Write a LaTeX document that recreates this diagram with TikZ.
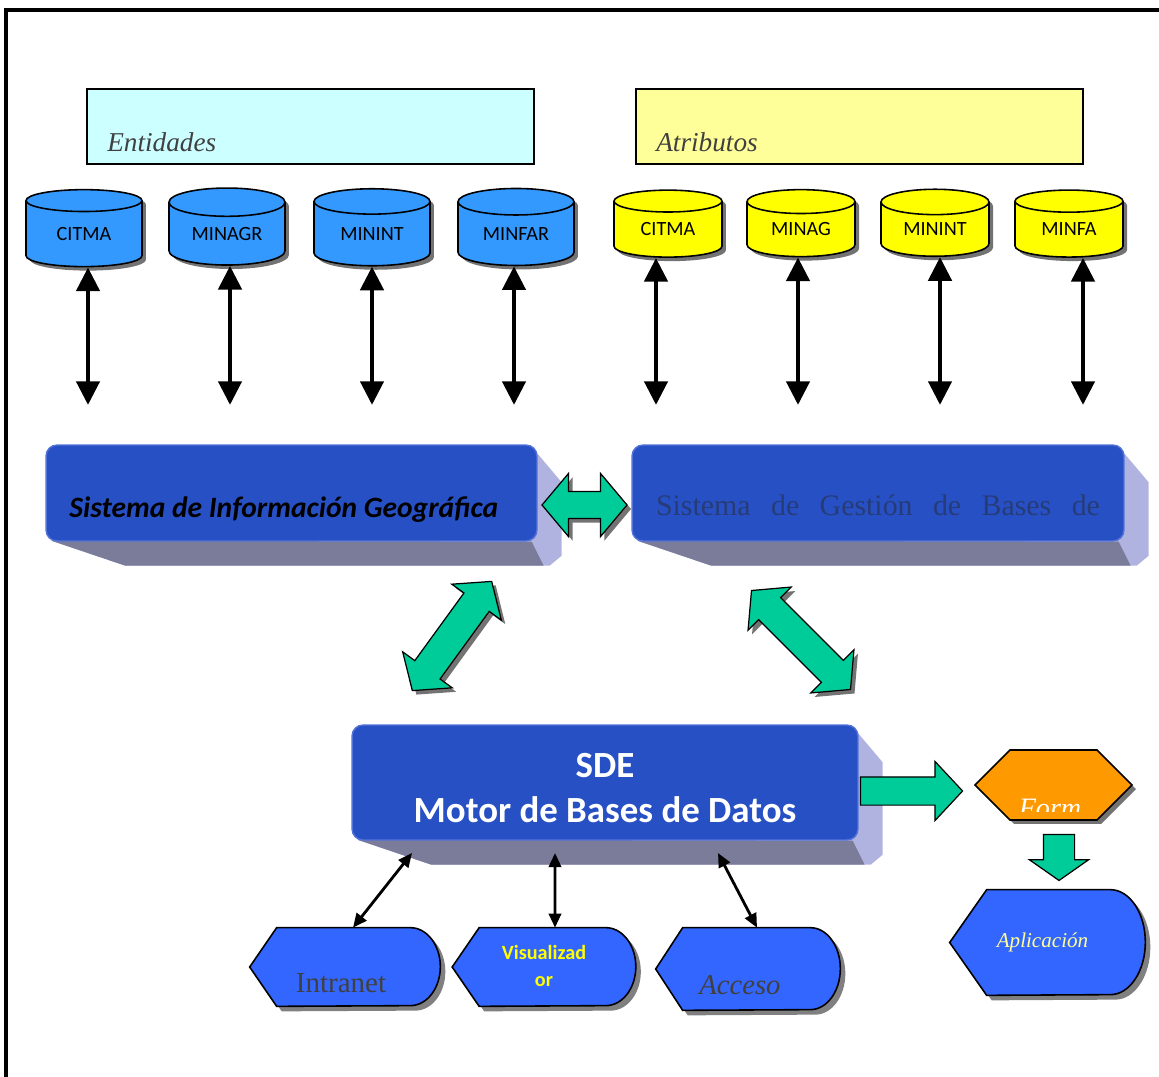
\documentclass[tikz,border=0pt]{standalone}
\usepackage{fontspec}
\setmainfont{Liberation Serif}
\newfontfamily\calibri{Carlito}
\usetikzlibrary{positioning,shapes.geometric,shapes.arrows,shapes.symbols,shadows,arrows.meta,backgrounds,calc}

\definecolor{entcol}{HTML}{CCFFFF}
\definecolor{atrcol}{HTML}{FFFF99}
\definecolor{cylblue}{HTML}{3399FF}
\definecolor{cylyellow}{HTML}{FFFF00}
\definecolor{sysblue}{HTML}{2850C5}
\definecolor{sysedge}{HTML}{5373D8}
\definecolor{sideface}{HTML}{B0B3E0}
\definecolor{bottomface}{HTML}{7B7B9A}
\definecolor{flowgreen}{HTML}{00CC99}
\definecolor{formorange}{HTML}{FF9900}
\definecolor{dispblue}{HTML}{3366FF}
\definecolor{darktext}{HTML}{404040}
\definecolor{gestext}{HTML}{263C78}

% caja en relieve detras de los sistemas
\newcommand{\boxdepth}[1]{%
  \fill[sideface] ([shift={(-3,6)}]#1.north east) -- ([shift={(24,38)}]#1.north east)
    -- ([shift={(24,14)}]#1.south east) -- ([shift={(12,24)}]#1.south east)
    -- ([shift={(80,24)}]#1.south west) -- ([shift={(6,-1)}]#1.south west) -- cycle;
  \fill[bottomface] ([shift={(6,-1)}]#1.south west) -- ([shift={(80,24)}]#1.south west)
    -- ([shift={(6,24)}]#1.south east) -- ([shift={(-6,0)}]#1.south east) -- cycle;
}
% forma de pantalla: punta a la izquierda, redonda a la derecha
\newcommand{\dispshape}[4]{%
  \filldraw[dispstyle] (#1.west) -- ([xshift=#2]#1.north west) -- ([xshift=-#3]#1.north east)
    arc[start angle=90, end angle=-90, x radius=#3, y radius=#4]
    -- ([xshift=#2]#1.south west) -- cycle;
}

\begin{document}
\begin{tikzpicture}[x=0.02cm, y=-0.02cm,
    titlebox/.style={rectangle, draw, line width=1pt, minimum width=8.94cm, minimum height=1.5cm},
    titletext/.style={anchor=west, inner sep=0pt, text=darktext, font=\itshape\fontsize{15.5}{18}\selectfont},
    basedato/.style={cylinder, shape border rotate=90, aspect=0.4, draw, line width=0.9pt,
      inner sep=0pt, font=\calibri\fontsize{11.5}{13}\selectfont,
      drop shadow={shadow xshift=0.08cm, shadow yshift=-0.08cm, fill=black!55, opacity=1}},
    bluedb/.style={basedato, fill=cylblue, minimum width=2.32cm, minimum height=1.54cm},
    yellowdb/.style={basedato, fill=cylyellow, minimum width=2.16cm, minimum height=1.34cm},
    bigarrow/.style={line width=2.8pt, {Triangle[width=13pt,length=13.5pt]}-{Triangle[width=13pt,length=13.5pt]}},
    smallarrow/.style={line width=1.6pt, {Triangle[width=7pt,length=8pt]}-{Triangle[width=7pt,length=8pt]}},
    sysbox/.style={rectangle, rounded corners=0.22cm, draw=sysedge, line width=0.8pt, fill=sysblue},
    greenshadow/.style={drop shadow={shadow xshift=0.08cm, shadow yshift=-0.08cm, fill=black!55, opacity=1}},
    dblarrow/.style={double arrow, draw, fill=flowgreen, line width=0.7pt, inner xsep=0pt, greenshadow},
    onearrow/.style={single arrow, draw, fill=flowgreen, line width=0.7pt, inner xsep=0pt},
    dispstyle/.style={fill=dispblue, draw=black, line width=0.9pt,
      drop shadow={shadow xshift=0.1cm, shadow yshift=-0.1cm, fill=black!50, opacity=1}},
    dispbox/.style={rectangle, inner sep=0pt, minimum height=1.56cm}
  ]
  \useasboundingbox (0,0) rectangle (1159,1077);
  \draw[line width=0.08cm] (6,1077) -- (6,10) -- (1159,10);

  % cajas de titulo
  \node[titlebox, fill=entcol] (ent) at (310.5,126.5) {};
  \node[titletext] (entlbl) at (107,142) {Entidades};
  \node[titlebox, fill=atrcol] (atr) at (859.5,126.5) {};
  \node[titletext] (atrlbl) at (656,142) {Atributos};

  % bases de datos
  \node[bluedb] (b1) at (84,234) {CITMA};
  \node[bluedb] (b2) at (227,234) {MINAGR};
  \node[bluedb] (b3) at (372,234) {MININT};
  \node[bluedb] (b4) at (516,234) {MINFAR};
  \node[yellowdb] (y1) at (668,229.5) {CITMA};
  \node[yellowdb] (y2) at (801,229.5) {MINAG};
  \node[yellowdb] (y3) at (935,229.5) {MININT};
  \node[yellowdb] (y4) at (1069,229.5) {MINFA};

  \coordinate (armbase) at (0,405);
  \foreach \n/\d in {b1/4,b2/3,b3/0,b4/-2,y1/-12,y2/-3,y3/5,y4/14}
    \draw[bigarrow] ([xshift=\d*0.02cm]\n.south) -- ([xshift=\d*0.02cm]\n.south |- armbase);

  % sistemas
  \node[sysbox, minimum width=9.82cm, minimum height=1.92cm] (sig) at (291.5,493) {};
  \node[anchor=west, inner sep=0pt, font=\calibri\bfseries\itshape\fontsize{16.8}{20}\selectfont] (siglbl) at (69,510)
    {Sistema de Información Geográfica};
  \node[sysbox, minimum width=9.84cm, minimum height=1.92cm] (sgbd) at (878,493) {};
  \node[inner sep=0pt, text=gestext, font=\fontsize{17}{20}\selectfont] (sgbdlbl) at (878,505)
    {\makebox[8.88cm][s]{Sistema de Gestión de Bases de}};
  \node[sysbox, minimum width=10.12cm, minimum height=2.3cm] (sde) at (605,782.5) {};
  \node[text=white, align=center, font=\calibri\bfseries\fontsize{21}{26}\selectfont] (sdelbl) at (605,788)
    {SDE\\Motor de Bases de Datos};

  \begin{scope}[on background layer]
    \boxdepth{sig}
    \boxdepth{sgbd}
    \boxdepth{sde}
  \end{scope}

  % flechas verdes
  \node[dblarrow, minimum height=1.7cm, inner ysep=0.26cm, double arrow head extend=0.36cm,
    double arrow tip angle=100] (link) at ($(sig.east)!0.5!(sgbd.west)+(0,12)$) {};
  \node[dblarrow, rotate=54, minimum height=2.7cm, inner ysep=0.3cm, double arrow head extend=0.3cm,
    double arrow tip angle=100] (linkl) at (452,636) {};
  \node[dblarrow, rotate=-45, minimum height=2.8cm, inner ysep=0.3cm, double arrow head extend=0.3cm,
    double arrow tip angle=100] (linkr) at (801,640) {};
  \node[onearrow, minimum height=2.04cm, inner ysep=0.27cm, single arrow head extend=0.31cm,
    single arrow tip angle=94] (toform) at (905,791) {};
  \node[onearrow, rotate=-90, minimum height=0.92cm, inner ysep=0.3cm, single arrow head extend=0.28cm,
    single arrow tip angle=110] (toapp) at (1059,852) {};

  % formulario
  \node[signal, signal to=east and west, signal pointer angle=90, draw, line width=0.9pt, fill=formorange,
    minimum width=3.14cm, minimum height=1.4cm, inner sep=0pt, greenshadow] (form) at (1053.5,785) {};
  \begin{scope}
    \clip (975,750) rectangle (1132,811);
    \node[text=white, font=\itshape\fontsize{16}{18}\selectfont] (formlbl) at (1050,808) {Form};
  \end{scope}

  % aplicacion y salidas
  \node[dispbox, minimum width=3.9cm, minimum height=2.1cm, text=atrcol,
    font=\itshape\fontsize{12}{14}\selectfont] (app) at (1047.5,942.5) {\hspace*{-0.2cm}Aplicación};
  \node[dispbox, minimum width=3.8cm] (intra) at (345,967) {};
  \node[dispbox, minimum width=3.66cm] (visu) at (544,967) {};
  \node[dispbox, minimum width=3.68cm, minimum height=1.64cm] (acc) at (748,969) {};
  \begin{scope}[on background layer]
    \dispshape{app}{0.74cm}{0.7cm}{1.05cm}
    \dispshape{intra}{0.54cm}{0.6cm}{0.78cm}
    \dispshape{visu}{0.54cm}{0.6cm}{0.78cm}
    \dispshape{acc}{0.54cm}{0.6cm}{0.82cm}
  \end{scope}
  \node[text=darktext, font=\fontsize{16.5}{18}\selectfont] (intralbl) at (341,983) {Intranet};
  \node[text=cylyellow, align=center, font=\calibri\bfseries\fontsize{11.5}{15}\selectfont] (visulbl) at (544,966)
    {Visualizad\\or};
  \node[text=darktext, font=\itshape\fontsize{16.3}{18}\selectfont] (acclbl) at (740,985) {Acceso};

  \coordinate (s1) at (412,853);
  \coordinate (s2) at (555,853);
  \coordinate (s3) at (718,853);
  \draw[smallarrow] ([xshift=0.16cm]intra.north) -- (s1);
  \draw[smallarrow] ([xshift=0.22cm]visu.north) -- (s2);
  \draw[smallarrow] ([xshift=0.18cm]acc.north) -- (s3);
\end{tikzpicture}
\end{document}
